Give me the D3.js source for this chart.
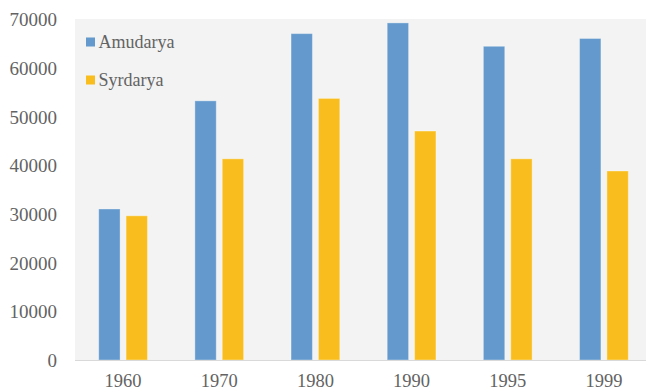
<!DOCTYPE html>
<html><head><meta charset="utf-8">
<script src="https://cdn.jsdelivr.net/npm/d3@7"></script>
<style>html,body{margin:0;padding:0;background:#fff;overflow:hidden}
svg text{font-family:"Liberation Serif","Times New Roman",Times,"DejaVu Serif",serif;}</style>
</head><body>
<script>
const categories = ["1960","1970","1980","1990","1995","1999"];
const seriesNames = ["Amudarya","Syrdarya"];
const amudarya = [31000, 53200, 67000, 69200, 64400, 66000];
const syrdarya = [29600, 41300, 53700, 47000, 41300, 38800];
const yTicks = [0,10000,20000,30000,40000,50000,60000,70000];
const colors = ["#6399CC","#F9BE1E"];

const W = 646, H = 391;
const svg = d3.select("body").append("svg").attr("width", W).attr("height", H);
const textColor = "#636363";

const plotL = 75, plotT = 19, plotB = 360, plotR = 652;
svg.append("rect").attr("x", plotL).attr("y", plotT).attr("width", plotR - plotL).attr("height", plotB - plotT).attr("fill", "#F3F3F3");

const y = d3.scaleLinear().domain([0, 70000]).range([plotB, plotT]);
const x0 = d3.scaleBand().domain(categories).range([plotL, plotR]).paddingInner(0.493).paddingOuter(0.2465);
const x1 = d3.scaleBand().domain(seriesNames).range([0, x0.bandwidth()]).paddingInner(0.219);

const data = categories.map((c, i) => ({cat: c, vals: [amudarya[i], syrdarya[i]]}));
const g = svg.append("g");
data.forEach(d => {
  d.vals.forEach((v, j) => {
    g.append("rect")
      .attr("x", x0(d.cat) + x1(seriesNames[j]))
      .attr("y", y(v))
      .attr("width", x1.bandwidth())
      .attr("height", y(0) - y(v))
      .attr("fill", colors[j])
      .attr("stroke", "rgba(255,255,255,0.35)")
      .attr("stroke-width", 1);
  });
});

svg.append("line").attr("x1", plotL).attr("x2", plotR).attr("y1", plotB + 0.5).attr("y2", plotB + 0.5).attr("stroke", "#D9D9D9").attr("stroke-width", 1);

const yAxis = d3.axisLeft(y).tickValues(yTicks).tickSize(0).tickPadding(18).tickFormat(d3.format("d"));
const ya = svg.append("g").attr("transform", `translate(${plotL},0)`).call(yAxis);
ya.select(".domain").remove();
ya.attr("font-family", null).attr("font-size", null);
ya.selectAll("text").style("font-size", "19px").attr("fill", textColor).attr("dy", "0.35em");

const xAxis = d3.axisBottom(x0).tickSize(0).tickPadding(14);
const xa = svg.append("g").attr("transform", `translate(0,${plotB})`).call(xAxis);
xa.select(".domain").remove();
xa.attr("font-family", null).attr("font-size", null);
xa.selectAll("text").style("font-size", "18.5px").attr("fill", textColor).attr("dy", "0.71em");

const leg = svg.append("g");
seriesNames.forEach((s, i) => {
  const ly = 42 + i * 38;
  leg.append("rect").attr("x", 86).attr("y", ly - 4.5).attr("width", 9).attr("height", 9).attr("fill", colors[i]);
  leg.append("text").attr("x", 98.5).attr("y", ly).attr("dy", "0.35em").style("font-size", "18px").attr("fill", textColor).text(s);
});
</script>
</body></html>
